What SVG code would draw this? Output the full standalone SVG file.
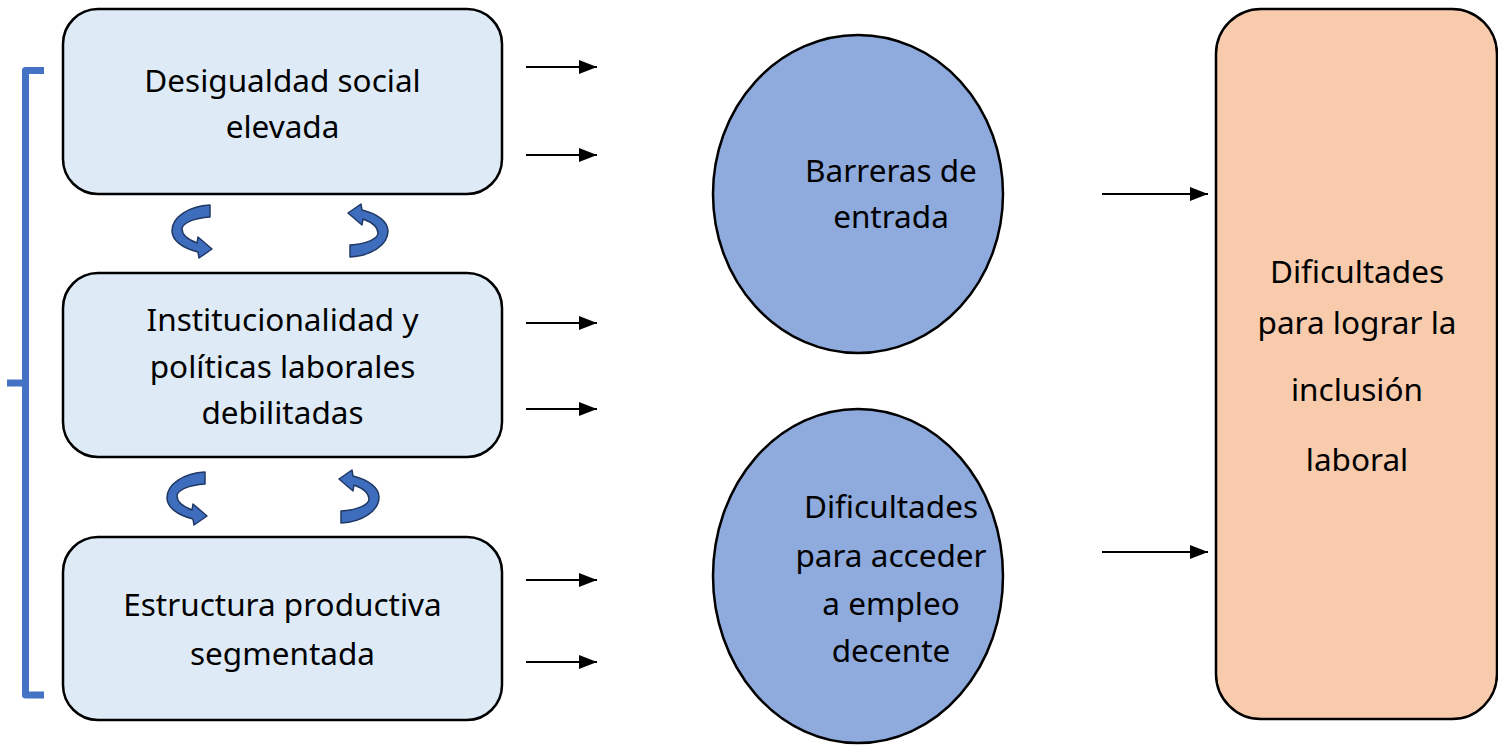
<svg xmlns="http://www.w3.org/2000/svg" width="1498" height="747" viewBox="0 0 1498 747">
<defs>
<style>
.box{fill:#DEEBF7;stroke:#000;stroke-width:2.5}
.circ{fill:#8FAADC;stroke:#000;stroke-width:2.5}
.out{fill:#F8CBAD;stroke:#000;stroke-width:2.5}
.t{font-family:"Noto Sans","Open Sans",sans-serif;font-size:31.5px;fill:#000;text-anchor:middle}
.con{stroke:#000;stroke-width:2;fill:none;marker-end:url(#ah)}
.cyc{fill:#3F6DBE;stroke:#1F3864;stroke-width:1.5;stroke-linejoin:round}
.br{fill:none;stroke:#4472C4;stroke-width:7;stroke-linejoin:round}
</style>
<marker id="ah" markerWidth="18" markerHeight="14" refX="18" refY="7" orient="auto" markerUnits="userSpaceOnUse">
<path d="M0,0 L18,7 L0,14 Z" fill="#000"/>
</marker>
<path id="cyc" d="M38,0 L38,12 C22,13 10,18 10,24 C10,30 17,35 25,38 L26,32 L40,44 L27,53 L26,47 C10,43 0,35 0,26 C0,12 17,1 38,0 Z"/>
</defs>
<g id="bracket">
<path class="br" d="M44,70.5 L25.5,70.5 L25.5,695 L44,695"/>
<path class="br" d="M7,383 L25.5,383"/>
</g>
<g id="n1"><rect class="box" x="63" y="9" width="439" height="185" rx="35"/>
<text class="t" x="282.5" y="92">Desigualdad social</text><text class="t" x="282.5" y="138">elevada</text></g>
<g id="n2"><rect class="box" x="63" y="273" width="439" height="184" rx="35"/>
<text class="t" x="282.5" y="331">Institucionalidad y</text><text class="t" x="282.5" y="378">políticas laborales</text><text class="t" x="282.5" y="424">debilitadas</text></g>
<g id="n3"><rect class="box" x="63" y="537" width="439" height="183" rx="35"/>
<text class="t" x="282.5" y="616">Estructura productiva</text><text class="t" x="282.5" y="665">segmentada</text></g>
<g id="c1"><ellipse class="circ" cx="858" cy="194" rx="145" ry="159"/>
<text class="t" x="891" y="182">Barreras de</text><text class="t" x="891" y="228">entrada</text></g>
<g id="c2"><ellipse class="circ" cx="858" cy="576" rx="145" ry="167"/>
<text class="t" x="891" y="518">Dificultades</text><text class="t" x="891" y="567">para acceder</text><text class="t" x="891" y="615">a empleo</text><text class="t" x="891" y="662">decente</text></g>
<g id="out"><rect class="out" x="1216" y="9" width="281" height="710" rx="45"/>
<text class="t" x="1357" y="283">Dificultades</text><text class="t" x="1357" y="334">para lograr la</text><text class="t" x="1357" y="401">inclusión</text><text class="t" x="1357" y="471">laboral</text></g>
<g id="cycles">
<use href="#cyc" class="cyc" transform="translate(172,205)"/>
<use href="#cyc" class="cyc" transform="translate(388,257) rotate(180)"/>
<use href="#cyc" class="cyc" transform="translate(167,472)"/>
<use href="#cyc" class="cyc" transform="translate(379,523) rotate(180)"/>
</g>
<g id="connectors">
<line class="con" x1="526" y1="67" x2="597" y2="67"/>
<line class="con" x1="526" y1="155" x2="597" y2="155"/>
<line class="con" x1="526" y1="323" x2="597" y2="323"/>
<line class="con" x1="526" y1="409" x2="597" y2="409"/>
<line class="con" x1="526" y1="580" x2="597" y2="580"/>
<line class="con" x1="526" y1="662" x2="597" y2="662"/>
<line class="con" x1="1102" y1="194" x2="1208" y2="194"/>
<line class="con" x1="1102" y1="552" x2="1208" y2="552"/>
</g>
</svg>
